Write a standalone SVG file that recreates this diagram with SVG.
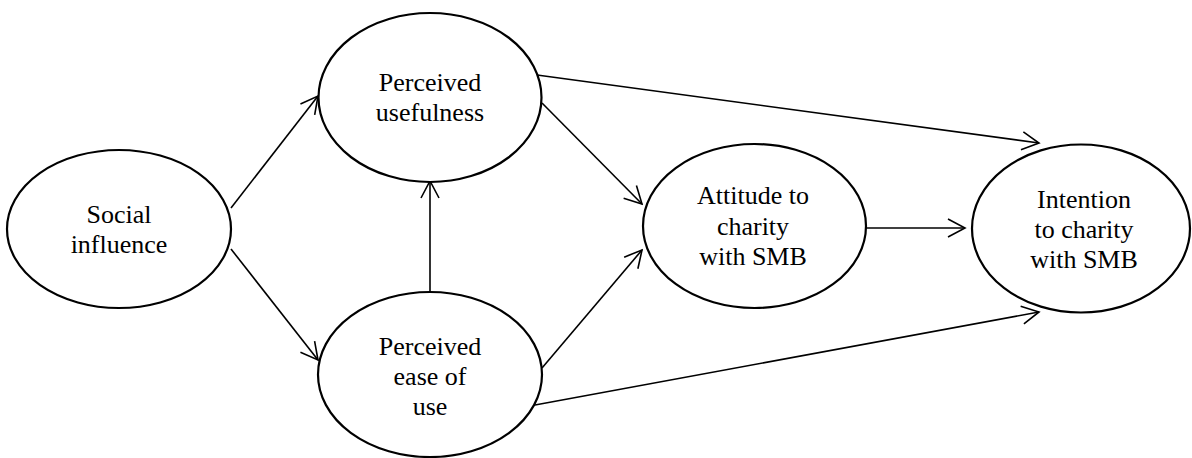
<svg xmlns="http://www.w3.org/2000/svg" width="1192" height="458" viewBox="0 0 1192 458">
<style>
.n{fill:#fff;stroke:#000;stroke-width:2.2}
.t{font-family:"Liberation Serif","Times New Roman",serif;font-size:26px;fill:#000;text-anchor:middle}
.c{stroke:#000;stroke-width:1.6;fill:none;marker-end:url(#a)}
</style>
<defs>
<marker id="a" viewBox="0 0 20 20" refX="18" refY="10" markerWidth="20" markerHeight="20" markerUnits="userSpaceOnUse" orient="auto">
<path d="M1,1 L18,10 L1,19" fill="none" stroke="#000" stroke-width="1.6"/>
</marker>
</defs>
<rect width="1192" height="458" fill="#fff"/>
<g id="connectors">
<line class="c" x1="231" y1="208" x2="318" y2="96"/>
<line class="c" x1="231" y1="249" x2="318" y2="360"/>
<line class="c" x1="430" y1="292" x2="430" y2="181"/>
<line class="c" x1="542" y1="103" x2="642" y2="204"/>
<line class="c" x1="542" y1="368" x2="642" y2="250"/>
<line class="c" x1="537" y1="75" x2="1039" y2="143"/>
<line class="c" x1="535" y1="405" x2="1039" y2="312"/>
<line class="c" x1="866" y1="228" x2="965" y2="228"/>
</g>
<g id="social">
<ellipse class="n" cx="119" cy="229" rx="112" ry="79"/>
<text class="t" x="119" y="223">Social</text>
<text class="t" x="119" y="253">influence</text>
</g>
<g id="pu">
<ellipse class="n" cx="430" cy="97.5" rx="111.5" ry="84.5"/>
<text class="t" x="430" y="91">Perceived</text>
<text class="t" x="430" y="121">usefulness</text>
</g>
<g id="peou">
<ellipse class="n" cx="430" cy="374.5" rx="112" ry="82.5"/>
<text class="t" x="430" y="355">Perceived</text>
<text class="t" x="430" y="385">ease of</text>
<text class="t" x="430" y="415">use</text>
</g>
<g id="attitude">
<ellipse class="n" cx="754.5" cy="226" rx="111.5" ry="82"/>
<text class="t" x="753" y="204">Attitude to</text>
<text class="t" x="753" y="235">charity</text>
<text class="t" x="753" y="265">with SMB</text>
</g>
<g id="intention">
<ellipse class="n" cx="1081" cy="228.5" rx="109" ry="84"/>
<text class="t" x="1084" y="208">Intention</text>
<text class="t" x="1084" y="238">to charity</text>
<text class="t" x="1084" y="268">with SMB</text>
</g>
</svg>
